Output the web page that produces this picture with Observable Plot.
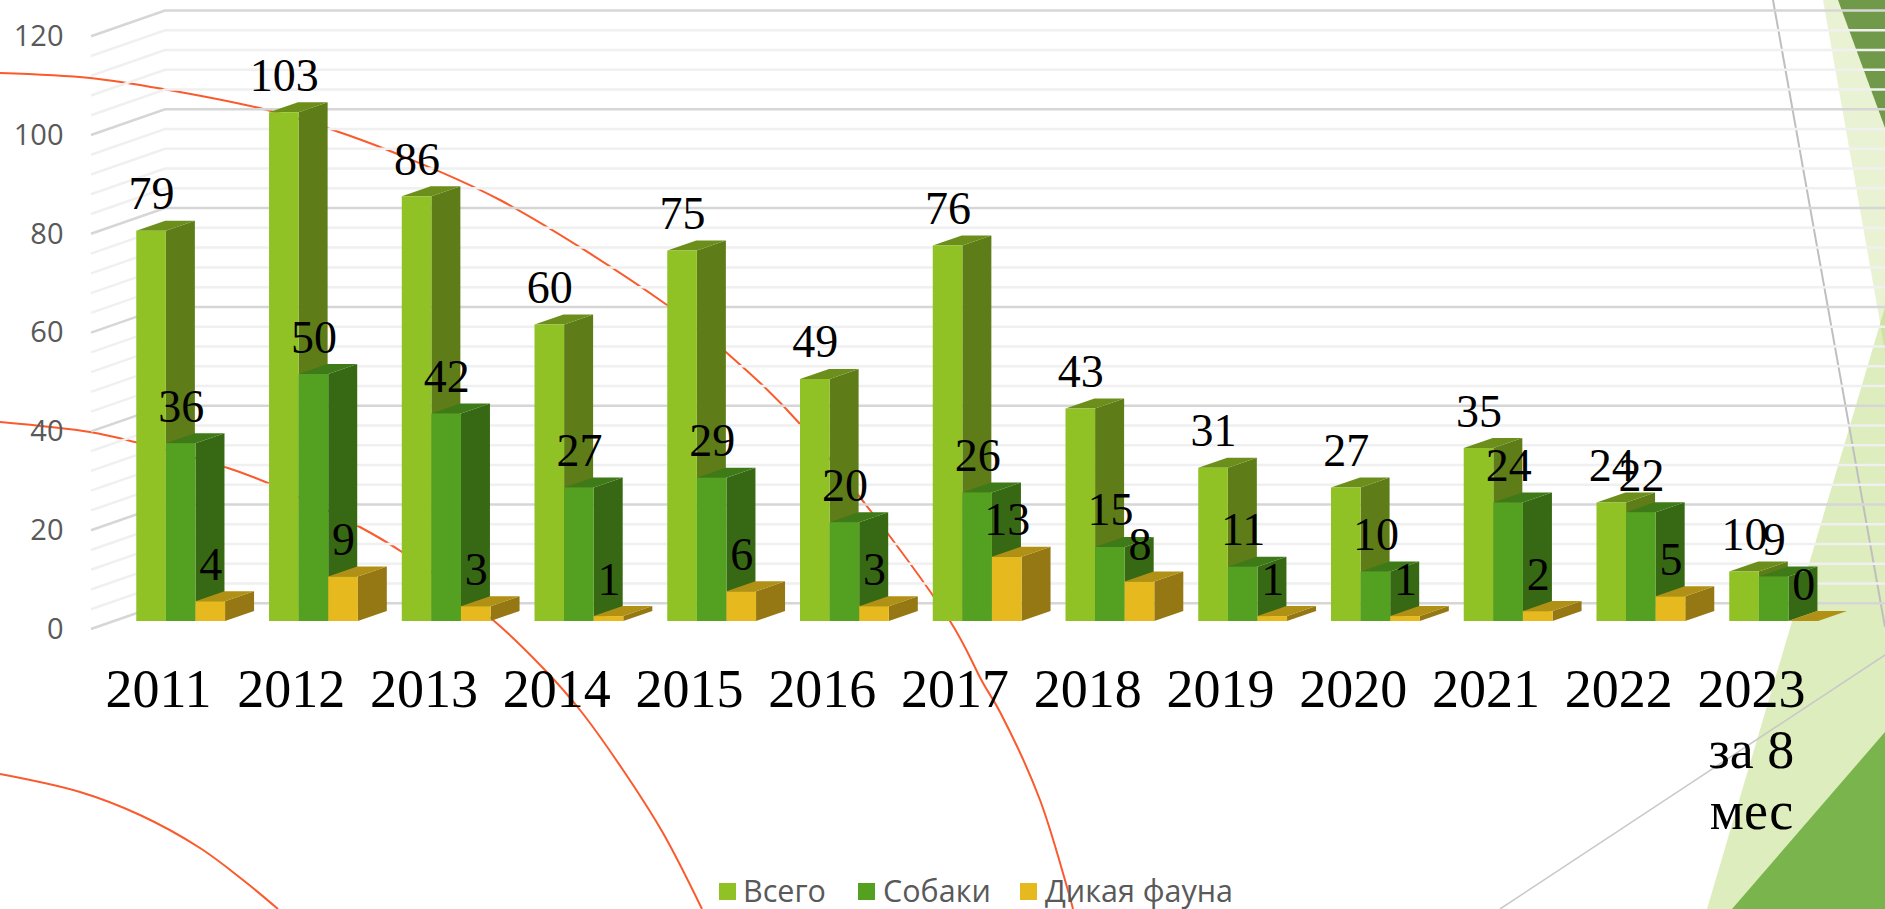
<!DOCTYPE html>
<html lang="ru">
<head>
<meta charset="utf-8">
<title>Всего, Собаки, Дикая фауна</title>
<script src="https://cdn.jsdelivr.net/npm/d3@7"></script>
<script src="https://cdn.jsdelivr.net/npm/@observablehq/plot@0.6"></script>
<style>
  html, body { margin: 0; padding: 0; background: #fff; overflow: hidden; width: 1885px; height: 909px; }
  #chart { position: absolute; left: 0; top: 0; }
  .lg { position: absolute; font: 30.5px/34px "Open Sans", sans-serif; color: #595959; white-space: nowrap; }
  .sw { position: absolute; width: 17px; height: 17px; }
</style>
</head>
<body>
<div id="chart"></div>
<script>
const years = ["2011","2012","2013","2014","2015","2016","2017","2018","2019","2020","2021","2022","2023\nза 8\nмес"];
const seriesNames = ["Всего","Собаки","Дикая фауна"];
const total = [79,103,86,60,75,49,76,43,31,27,35,24,10];
const dogs = [36,50,42,27,29,20,26,15,11,10,24,22,9];
const wildlife = [4,9,3,1,6,3,13,8,1,1,2,5,0];
const seriesValues = [total, dogs, wildlife];
const frontColors = ["#90C226","#54A021","#E6B91E"];
const sideColors = ["#5E7C18","#376915","#957813"];
const topColors = ["#6C8F1C","#3F7A18","#B09015"];
const yTicks = [0,20,40,60,80,100,120];
const gridTicks = d3.range(0,121,4);

const rows = years.flatMap((year,i)=>seriesNames.map((series,s)=>({year,series,s,value:seriesValues[s][i]})));

const depthX = 29, depthY = -10;
const wallFrontX = 91, wallBackX = 165, wallFrontDy = 8, wallBackDy = -17.7;

function decor(){
  const g = d3.create("svg:g");
  const poly = (pts,fill,op)=>g.append("polygon").attr("points",pts.join(" ")).attr("fill",fill).attr("fill-opacity",op);
  poly([[1823,0],[1885,351],[1885,0]],"#90C226",0.2);
  poly([[1838,0],[1885,128],[1885,0]],"#5B8A30",0.85);
  poly([[1885,307],[1707,909],[1885,909]],"#90C226",0.3);
  poly([[1732,909],[1885,732],[1885,909]],"#7AB44C",1);
  const line = (a,b,c,w)=>g.append("line").attr("x1",a[0]).attr("y1",a[1]).attr("x2",b[0]).attr("y2",b[1]).attr("stroke",c).attr("stroke-width",w);
  line([1773,0],[1885,627],"#BFBFBF",2);
  line([1885,655],[1500,909],"#C8C8C8",1.5);
  const curve = d3.line().curve(d3.curveCatmullRom);
  const arcs = [
    [[0,73],[90,78],[163,89],[267,110],[333,130],[390,151],[500,200],[667,305],[727,353],[800,424],[950,621],[983,683],[1000,712],[1040,800],[1073,909]],
    [[0,422],[90,432],[135,442],[225,467],[268,483],[358,526],[402,552],[493,620],[543,668],[580,710],[623,770],[663,833],[702,909]],
    [[0,774],[80,792],[140,815],[200,848],[243,880],[278,909]]
  ];
  for(const a of arcs) g.append("path").attr("d",curve(a)).attr("fill","none").attr("stroke","#FB5A2C").attr("stroke-width",2);
  return g.node();
}

function walls(index,{y},values,{width}){
  const g = d3.create("svg:g");
  for(const v of gridTicks){
    const major = v%20===0;
    g.append("polyline")
      .attr("points",[[wallFrontX,y(v)+wallFrontDy],[wallBackX,y(v)+wallBackDy],[width,y(v)+wallBackDy]].join(" "))
      .attr("fill","none")
      .attr("stroke",major?"#D6D6D6":"#F0F0F0")
      .attr("stroke-width",2.5);
  }
  return g.node();
}

function cuboids(index,scales,values){
  const g = d3.create("svg:g");
  const w = scales.x.bandwidth()/3;
  for(const i of index){
    const s = rows[i].s;
    const x0 = values.x[i]+s*w, x1 = x0+w, yb = values.y1[i], yt = values.y2[i];
    const face=(pts,fill)=>g.append("polygon").attr("points",pts.join(" ")).attr("fill",fill);
    face([[x1,yb],[x1+depthX,yb+depthY],[x1+depthX,yt+depthY],[x1,yt]],sideColors[s]);
    face([[x0,yt],[x1,yt],[x1+depthX,yt+depthY],[x0+depthX,yt+depthY]],topColors[s]);
    if(yb-yt>0) face([[x0,yb],[x1,yb],[x1,yt],[x0,yt]],values.fill[i]);
  }
  return g.node();
}

const barW = 88.8;
const labelMarks = seriesNames.map((name,s)=>Plot.text(rows.filter(d=>d.s===s),{
  x:"year", y:"value", text:d=>String(d.value),
  dx:(s-1)*barW/3, dy:-22, lineAnchor:"bottom",
  fontFamily:"Liberation Serif", fontSize:46, fill:"#000"
}));

const chart = Plot.plot({
  width:1885, height:909,
  marginLeft:91, marginRight:45, marginTop:0, marginBottom:288,
  style:{background:"none"},
  x:{type:"band",domain:years,range:[114.3,1840],paddingInner:0.3311,paddingOuter:0.16555,round:false,label:null},
  y:{domain:[0,120],range:[621,28.2],label:null},
  color:{type:"ordinal",domain:seriesNames,range:frontColors},
  marks:[
    decor,
    walls,
    Plot.barY(rows,{x:"year",y1:0,y2:"value",fill:"series",render:cuboids}),
    ...labelMarks,
    Plot.axisY({ticks:yTicks,tickSize:0,tickPadding:28,dy:8,label:null,fontFamily:"Open Sans",fontSize:29,fill:"#595959"}),
    Plot.axisX({tickSize:0,tickPadding:42,dx:-22.7,label:null,fontFamily:"Liberation Serif",fontSize:54,lineHeight:1.13,fill:"#000",textOverflow:null})
  ]
});
const host = document.getElementById("chart");
host.appendChild(chart);

const legendSquares = [719,858,1020];
const legendTexts = [743,883,1045];
seriesNames.forEach((name,s)=>{
  const sw=document.createElement("div"); sw.className="sw"; sw.style.left=legendSquares[s]+"px"; sw.style.top="883px"; sw.style.background=frontColors[s]; document.body.appendChild(sw);
  const t=document.createElement("div"); t.className="lg"; t.style.left=legendTexts[s]+"px"; t.style.top="873px"; t.textContent=name; document.body.appendChild(t);
});
</script>
</body>
</html>
